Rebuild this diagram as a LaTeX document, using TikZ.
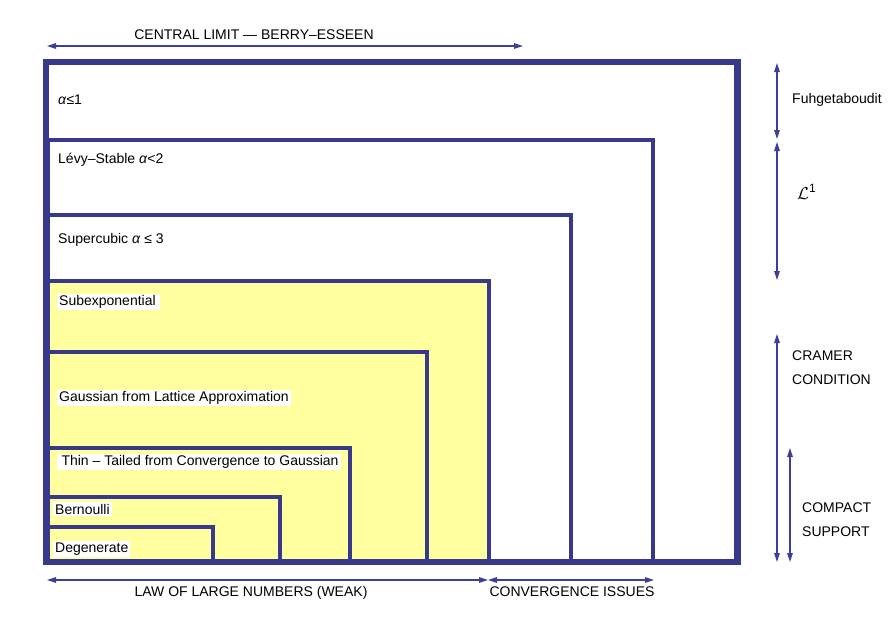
\documentclass[tikz,border=0pt]{standalone}
\usepackage{fontspec}
\setmainfont{Liberation Sans}
\usetikzlibrary{arrows.meta}
\definecolor{frameblue}{RGB}{57,57,140}
\definecolor{arrowblue}{RGB}{62,62,150}
\definecolor{paleyellow}{RGB}{255,255,160}
\begin{document}
\begin{tikzpicture}[x=1pt,y=-1pt,
  frame/.style={draw=frameblue, line width=4.3pt},
  outerframe/.style={draw=frameblue, line width=6.8pt},
  dim/.style={draw=arrowblue, line width=1.2pt, {Triangle[length=9pt,width=5.5pt]}-{Triangle[length=9pt,width=5.5pt]}},
  lab/.style={fill=white, inner xsep=2pt, inner ysep=1.5pt, anchor=west, font=\fontsize{14}{16}\selectfont},
  txt/.style={inner sep=0pt, font=\fontsize{14}{16}\selectfont},
  sidetxt/.style={inner sep=0pt, anchor=west, align=left, font=\fontsize{14}{24}\selectfont}]
\useasboundingbox (0,0) rectangle (889,622);
% yellow region
\fill[paleyellow] (48,561) rectangle (489,281);
% frames
\draw[outerframe] (46,562) rectangle (737.5,62);
\draw[frame] (48,561) rectangle (653,140);
\draw[frame] (48,561) rectangle (571,215);
\draw[frame] (48,561) rectangle (489,281);
\draw[frame] (48,561) rectangle (427,352);
\draw[frame] (48,561) rectangle (350,448);
\draw[frame] (48,561) rectangle (280,497);
\draw[frame] (48,561) rectangle (213,527);
% box labels
\node[lab] (a1) at (56,100) {\textit{α}≤1};
\node[lab] (levy) at (56,160) {Lévy–Stable \textit{α}<2};
\node[lab] (super) at (56,240) {Supercubic \textit{α} ≤ 3};
\node[lab] (subexp) at (57,302) {Subexponential\,};
\node[lab] (gauss) at (57,398) {Gaussian from Lattice Approximation};
\node[lab] (thin) at (57,462) {\,Thin – Tailed from Convergence to Gaussian};
\node[lab] (bern) at (53,509) {Bernoulli};
\node[lab] (degen) at (53,549) {Degenerate};
% top arrow
\coordinate (tl) at (47,46);
\coordinate (tr) at (523,46);
\draw[dim] (tl) -- (tr);
\node[txt] (clt) at (254,35) {CENTRAL LIMIT — BERRY–ESSEEN};
% bottom arrows
\coordinate (bl) at (47,580);
\coordinate (bm) at (488,580);
\coordinate (br) at (654,580);
\draw[dim] (bl) -- (bm);
\draw[dim] (bm) -- (br);
\node[txt] (lln) at (251,593) {LAW OF LARGE NUMBERS (WEAK)};
\node[txt] (conv) at (572,592) {CONVERGENCE ISSUES};
% right arrows
\coordinate (f1) at (777,63);
\coordinate (f2) at (777,139);
\coordinate (l1) at (777,142);
\coordinate (l2) at (777,280);
\coordinate (c1) at (777,334);
\coordinate (c2) at (777,562);
\coordinate (k1) at (790,448);
\coordinate (k2) at (790,562);
\draw[dim] (f1) -- (f2);
\draw[dim] (l1) -- (l2);
\draw[dim] (c1) -- (c2);
\draw[dim] (k1) -- (k2);
\node[sidetxt] (fuh) at (792,100) {Fuhgetaboudit};
\node[sidetxt] (lone) at (797,192) {\fontsize{17}{20}\selectfont$\mathcal{L}$\raisebox{7pt}{\fontsize{12}{14}\selectfont 1}};
\node[sidetxt] (cram) at (792,368) {CRAMER\\CONDITION};
\node[sidetxt] (comp) at (802,520) {COMPACT\\SUPPORT};
\end{tikzpicture}
\end{document}
